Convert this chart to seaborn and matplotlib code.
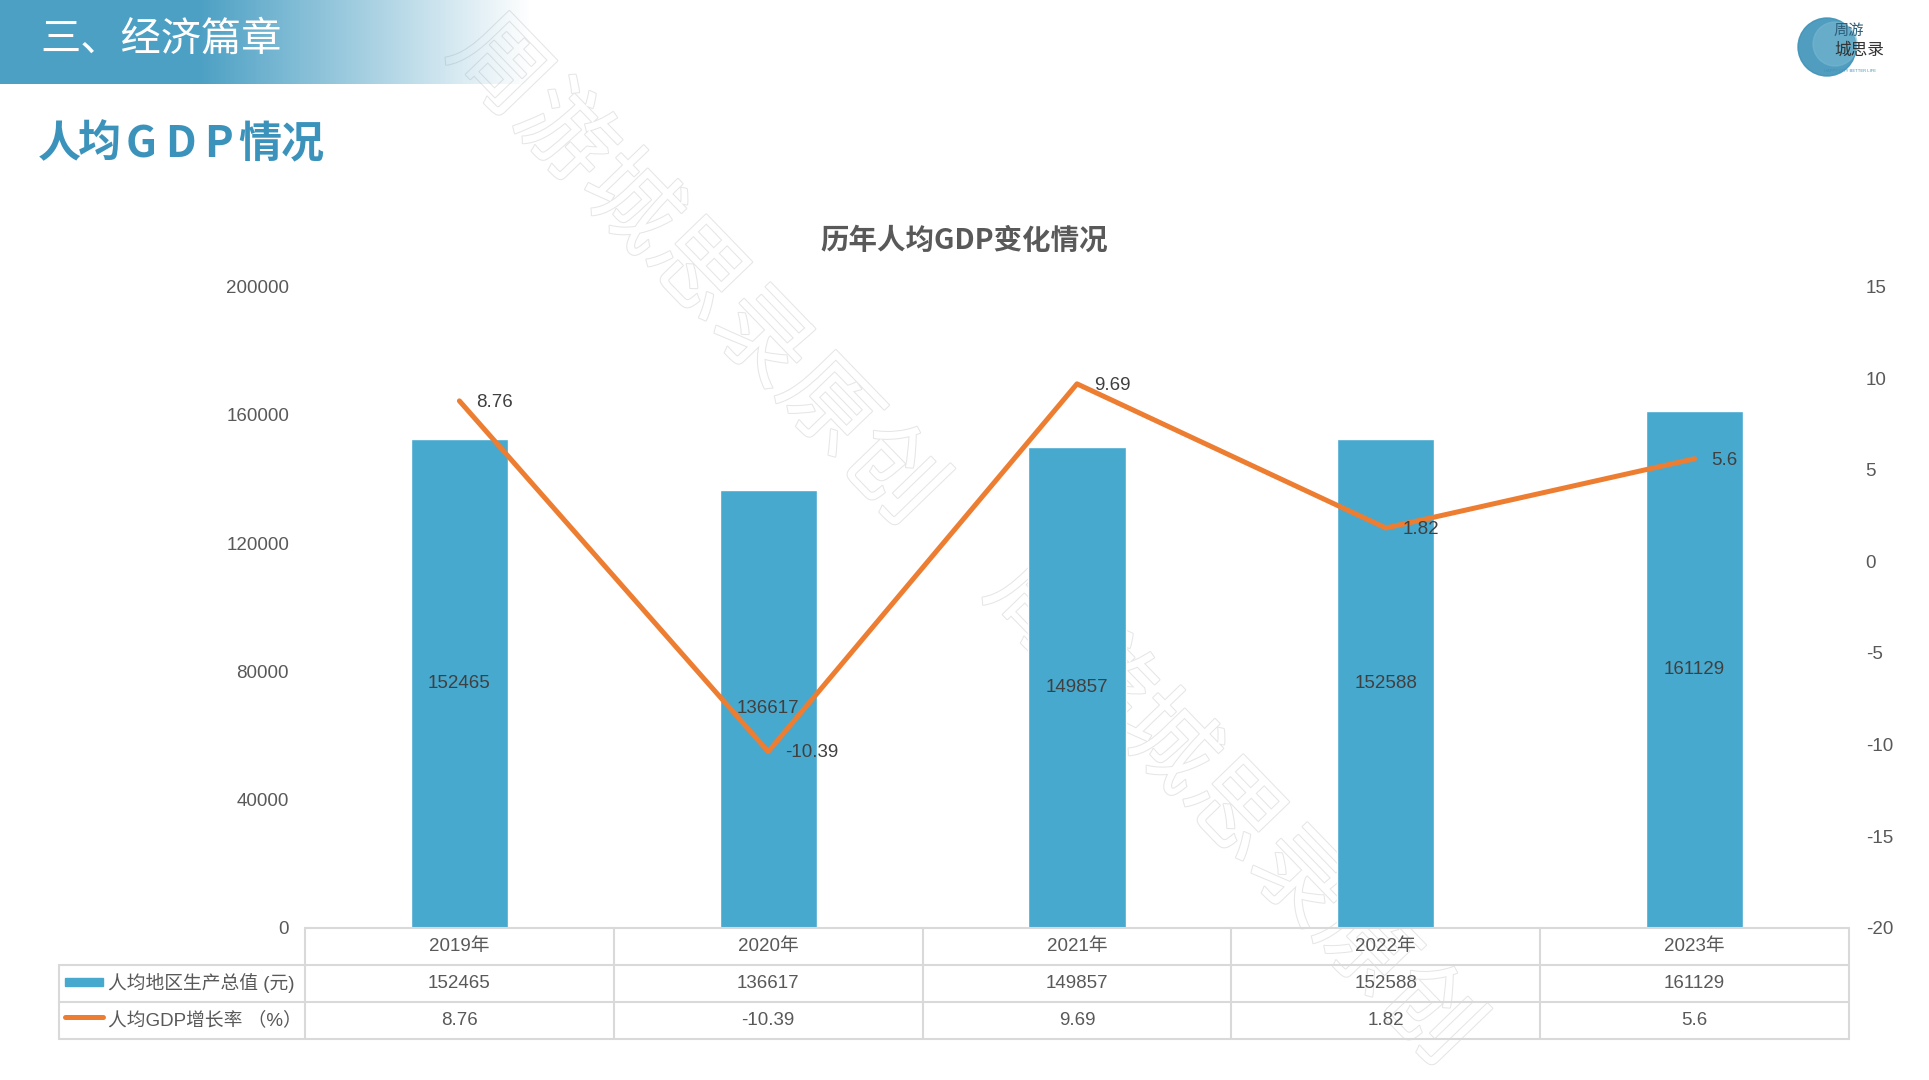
import numpy as np
import matplotlib
matplotlib.use('Agg')
import matplotlib.pyplot as plt
import matplotlib.patheffects as pe
from matplotlib.patches import Rectangle, Circle
from matplotlib.lines import Line2D
import pandas as pd
import seaborn as sns

# data
years = ['2019年', '2020年', '2021年', '2022年', '2023年']
gdp_per_capita = [152465, 136617, 149857, 152588, 161129]
growth_rate = [8.76, -10.39, 9.69, 1.82, 5.6]
growth_labels = ['8.76', '-10.39', '9.69', '1.82', '5.6']
left_ticks = [0, 40000, 80000, 120000, 160000, 200000]
right_ticks = [-20, -15, -10, -5, 0, 5, 10, 15]
row_names = ['人均地区生产总值 (元)', '人均GDP增长率 （%）']

bar_color = '#48A9CF'
line_color = '#ED7D31'
text_color = '#595959'
label_color = '#404040'
grid_color = '#D9D9D9'

sns.set_theme(style='white')
plt.rcParams['font.family'] = ['Liberation Sans', 'Noto Sans CJK SC', 'DejaVu Sans']
plt.rcParams['axes.unicode_minus'] = False

df = pd.DataFrame({'year': years, 'gdp': gdp_per_capita,
                   'rate': growth_rate, 'pos': range(len(years))})

W, H = 1929, 1080
fig = plt.figure(figsize=(W / 100, H / 100), dpi=100)

def fx(px):
    return px / W

def fy(py):
    return 1 - py / H

# header band with fading gradient
band = fig.add_axes([0, fy(84), 1, 84 / H])
grad = np.ones((1, W, 4))
grad[..., :3] = [0.30, 0.63, 0.77]
xs = np.arange(W)
grad[0, :, 3] = np.clip((530 - xs) / (530 - 200), 0, 1)
band.imshow(grad, aspect='auto', extent=[0, 1, 0, 1])
band.axis('off')
fig.text(fx(40), fy(39), '三、经济篇章', color='white', fontsize=29,
         family=['Noto Sans CJK SC'], va='center', ha='left')

# subtitle, letter spaced
sub_chars = ['人', '均', 'G', 'D', 'P', '情', '况']
sub_x = [59, 99, 141, 180, 219, 260, 302]
for ch, x in zip(sub_chars, sub_x):
    fig.text(fx(x), fy(144), ch, color='#3B93BC', fontsize=31, weight='bold',
             family=['Noto Sans CJK SC'], ha='center', va='center')

# watermark
for cx, cy in [(695, 272), (1232, 812)]:
    fig.text(fx(cx), fy(cy), '周游城思录原创', fontsize=68, rotation=-46,
             color='white', family=['Noto Sans CJK SC'], ha='center', va='center',
             rotation_mode='anchor', zorder=-1,
             path_effects=[pe.withStroke(linewidth=1.5, foreground='#E6E6E6')])

# logo
lg = fig.add_axes([fx(1795), fy(82), 100 / W, 82 / H])
lg.set_xlim(0, 100)
lg.set_ylim(0, 82)
lg.axis('off')
lg.add_patch(Circle((32, 35), 29, color='#3E93B8', alpha=0.9))
lg.add_patch(Circle((40, 38), 22, color='#7DBBD3', alpha=0.5))
lg.text(39, 52, '周游', fontsize=11, color='#2F5F7A', family=['Noto Sans CJK SC'], va='center')
lg.text(39, 32, '城思录', fontsize=12, color='#333333', family=['Noto Sans CJK SC'], va='center')
lg.text(55, 11, 'HAPPY CITY BETTER LIFE', fontsize=3, color='#3E93B8', ha='center', va='center')

# chart title
fig.text(fx(964), fy(241), '历年人均GDP变化情况', fontsize=20.5, weight='bold',
         color=text_color, family=['Noto Sans CJK SC'], ha='center', va='center')

# main chart
ax = fig.add_axes([fx(305), fy(927.6), fx(1849) - fx(305), (927.6 - 286.6) / H])
ax.patch.set_alpha(0)
sns.barplot(data=df, x='year', y='gdp', color=bar_color, width=0.315,
            saturation=1, ax=ax)
ax.bar_label(ax.containers[0], labels=[str(v) for v in gdp_per_capita],
             label_type='center', fontsize=13.5, color=label_color)
ax.set_ylim(0, 200000)
ax.set_yticks(left_ticks)
ax.set_yticklabels([str(t) for t in left_ticks])
ax.set_xticks([])
ax.set_xlabel('')
ax.set_ylabel('')
for s in ax.spines.values():
    s.set_visible(False)
ax.tick_params(axis='y', length=0, pad=11.5, labelsize=13.5, labelcolor=text_color)

ax2 = ax.twinx()
sns.lineplot(x=df['pos'], y=df['rate'], ax=ax2, color=line_color, linewidth=3.6)
for i, (v, lbl) in enumerate(zip(growth_rate, growth_labels)):
    ax2.annotate(lbl, (i, v), xytext=(12, -1), textcoords='offset points',
                 ha='left', va='center', fontsize=13.5, color=label_color)
ax2.set_ylim(-20, 15)
ax2.set_yticks(right_ticks)
ax2.set_yticklabels([str(t) for t in right_ticks])
ax2.set_ylabel('')
for s in ax2.spines.values():
    s.set_visible(False)
ax2.tick_params(axis='y', length=0, pad=12, labelsize=13.5, labelcolor=text_color)
ax.set_xlim(-0.5, 4.5)

# data table under the chart
h = 37.2 / 641
left = (59 - 305) / 1544
n = len(years)

def tline(x0, x1, y0, y1):
    ax.add_line(Line2D([x0, x1], [y0, y1], transform=ax.transAxes,
                       color=grid_color, lw=1.5, clip_on=False))

tline(0, 1, 0, 0)
for k in (1, 2, 3):
    tline(left, 1, -k * h, -k * h)
for j in range(n + 1):
    tline(j / n, j / n, 0, -3 * h)
tline(left, left, -h, -3 * h)

for j in range(n):
    xc = (j + 0.5) / n
    ax.text(xc, -0.5 * h, years[j], transform=ax.transAxes, ha='center',
            va='center', fontsize=13.5, color=text_color)
    ax.text(xc, -1.5 * h, str(gdp_per_capita[j]), transform=ax.transAxes,
            ha='center', va='center', fontsize=13.5, color=text_color)
    ax.text(xc, -2.5 * h, growth_labels[j], transform=ax.transAxes,
            ha='center', va='center', fontsize=13.5, color=text_color)

lx0 = (65 - 305) / 1544
lx1 = (103 - 305) / 1544
ax.add_patch(Rectangle((lx0, -1.5 * h - 0.004), lx1 - lx0, 0.013,
                       transform=ax.transAxes, color=bar_color, clip_on=False))
ax.add_line(Line2D([lx0, lx1], [-2.5 * h + 0.006, -2.5 * h + 0.006],
                   transform=ax.transAxes, color=line_color, lw=3.6,
                   solid_capstyle='round', clip_on=False))
tx = (108 - 305) / 1544
for r, name in enumerate(row_names):
    ax.text(tx, -(1.5 + r) * h, name, transform=ax.transAxes, ha='left',
            va='center', fontsize=13.5, color=text_color)

fig.savefig('out.png', dpi=100)
